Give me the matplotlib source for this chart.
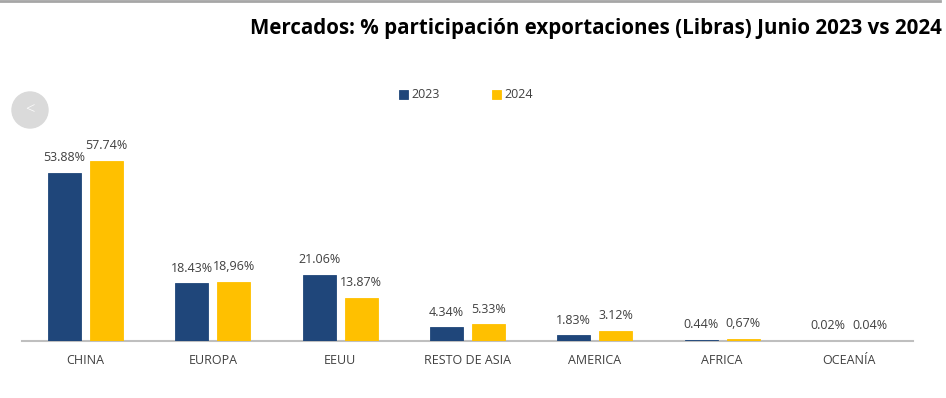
import numpy as np
import matplotlib.pyplot as plt
from matplotlib.patches import Ellipse
from matplotlib.lines import Line2D

plt.rcParams['font.family'] = ['Open Sans', 'DejaVu Sans']

# data
mercados = ['CHINA', 'EUROPA', 'EEUU', 'RESTO DE ASIA', 'AMERICA', 'AFRICA', 'OCEANÍA']
vals_2023 = [53.88, 18.43, 21.06, 4.34, 1.83, 0.44, 0.02]
vals_2024 = [57.74, 18.96, 13.87, 5.33, 3.12, 0.67, 0.04]
labels_2023 = ['53.88%', '18.43%', '21.06%', '4.34%', '1.83%', '0.44%', '0.02%']
labels_2024 = ['57.74%', '18,96%', '13.87%', '5.33%', '3.12%', '0,67%', '0.04%']

azul = '#1F467A'
amarillo = '#FFC000'
gris_txt = '#404040'

fig = plt.figure(figsize=(9.46, 3.98), dpi=100)
ax = fig.add_axes([22/946, 57/398, 891/946, 203/398])

x = np.arange(len(mercados))
w = 0.26
off = 0.165
b1 = ax.bar(x - off, vals_2023, w, color=azul, edgecolor=azul, lw=0.6,
            label='2023', zorder=3)
b2 = ax.bar(x + off, vals_2024, w, color=amarillo, edgecolor=amarillo, lw=0.6,
            label='2024', zorder=3)

for bars, labs in [(b1, labels_2023), (b2, labels_2024)]:
    for b, lab in zip(bars, labs):
        ax.annotate(lab, (b.get_x() + b.get_width()/2, b.get_height()),
                    xytext=(0, 11), textcoords='offset points',
                    ha='center', va='center', fontsize=9, color=gris_txt)

ax.set_xlim(-0.5, len(mercados) - 0.5)
ax.set_ylim(0, 65)
ax.set_xticks(x)
ax.set_xticklabels(mercados, fontsize=9, color=gris_txt)
ax.tick_params(axis='x', length=0, pad=9)
ax.set_yticks([])
for s in ['top', 'left', 'right']:
    ax.spines[s].set_visible(False)
ax.spines['bottom'].set_color('#BFBFBF')
ax.spines['bottom'].set_linewidth(1.5)

fig.legend(loc='center', bbox_to_anchor=(466/946, 303/398), ncol=2, frameon=False,
           fontsize=9, handlelength=0.7, handleheight=0.7, handletextpad=0.3,
           columnspacing=4.2, labelcolor=gris_txt)

fig.text(0.996, 0.928, 'Mercados: % participación exportaciones (Libras) Junio 2023 vs 2024',
         ha='right', va='center', fontsize=14.8, fontweight='bold', color='black')

# top frame line and carousel button from the screenshot
fig.add_artist(Line2D([0, 0.994], [0.997, 0.997], color='#A6A6A6', lw=2))
fig.add_artist(Ellipse((30/946, 288/398), 36/946, 36/398, color='#DADADA'))
fig.text(30/946, 288/398, '<', ha='center', va='center', fontsize=12,
         color='white', fontweight='light')

fig.savefig('out.png', dpi=100)
